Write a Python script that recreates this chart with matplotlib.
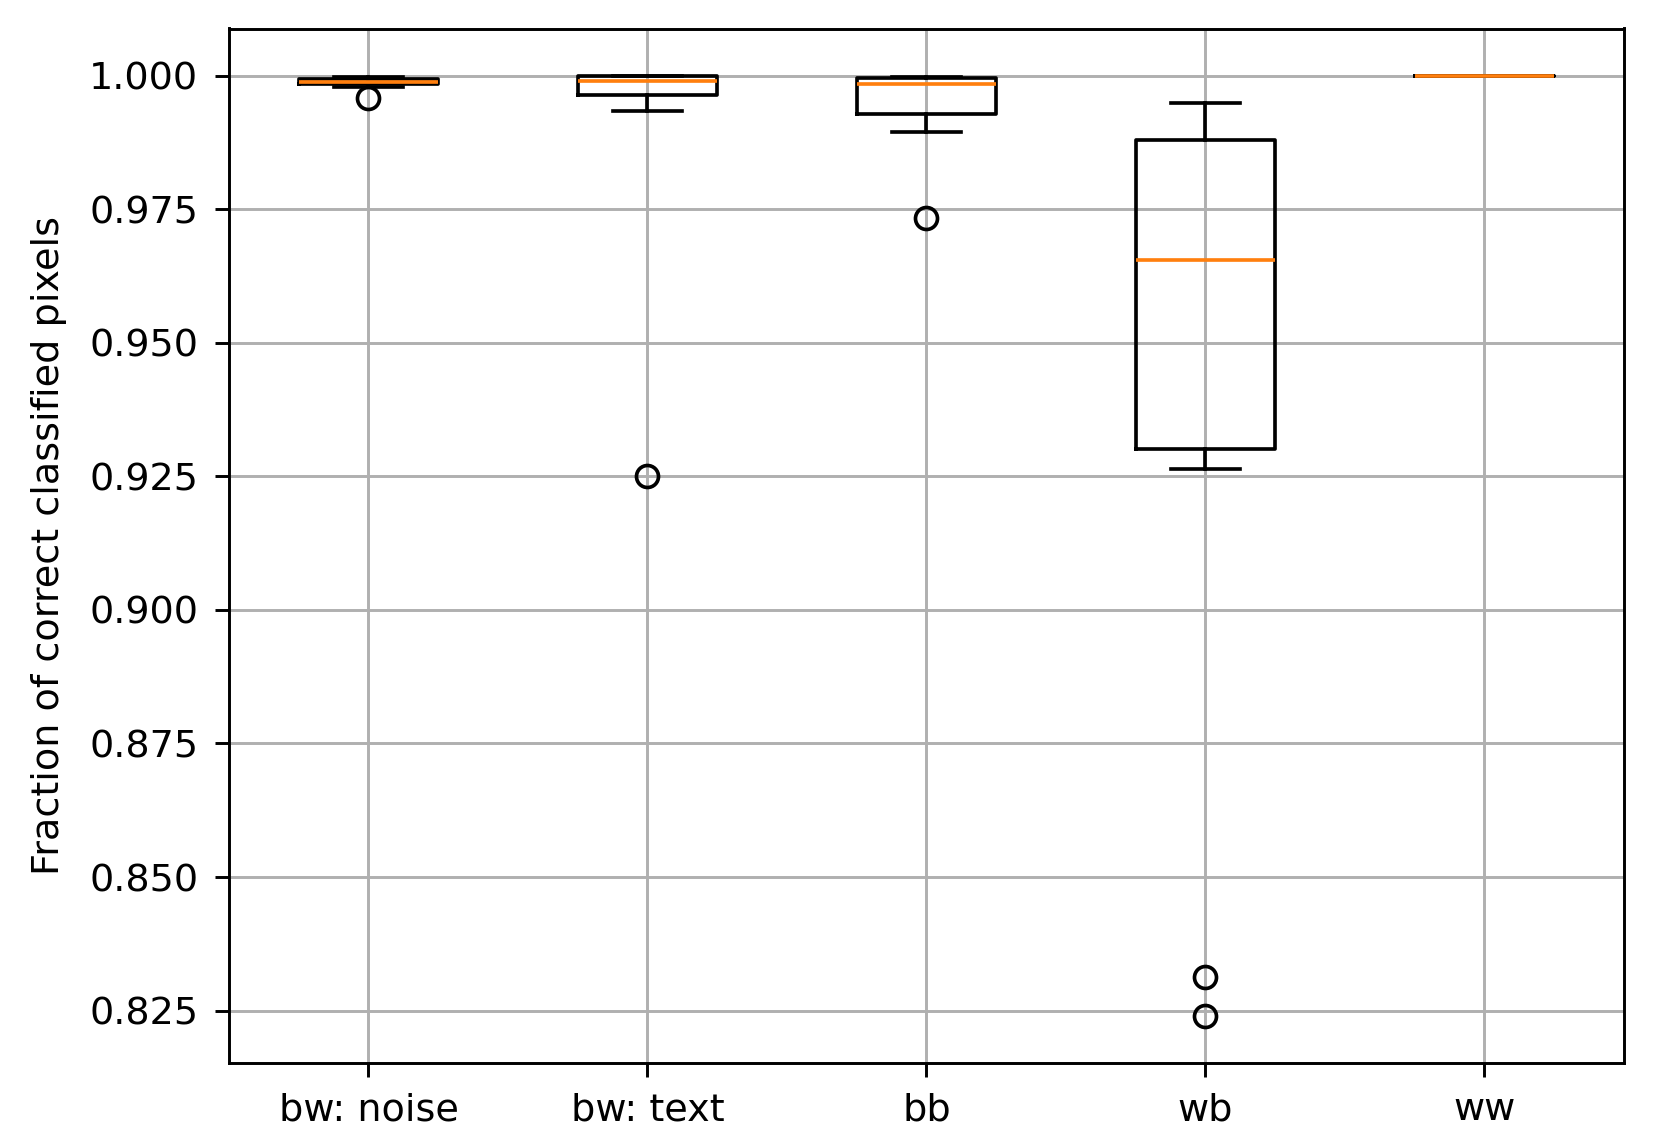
import matplotlib
matplotlib.use("Agg")
import matplotlib.pyplot as plt

categories = ["bw: noise", "bw: text", "bb", "wb", "ww"]
whisker_low = [0.9979, 0.9933, 0.9895, 0.9264, 0.99995]
q1 = [0.9984, 0.9963, 0.9928, 0.9301, 0.99995]
median = [0.9988, 0.9990, 0.9985, 0.9655, 0.99997]
q3 = [0.9993, 1.0000, 0.9996, 0.9880, 1.0000]
whisker_high = [0.9997, 1.0000, 0.9998, 0.9948, 1.0000]
fliers = [[0.9957], [0.9250], [0.9734], [0.8313, 0.8240], []]

stats = []
for i, name in enumerate(categories):
    stats.append(dict(label=name, whislo=whisker_low[i], q1=q1[i], med=median[i],
                      q3=q3[i], whishi=whisker_high[i], fliers=fliers[i]))

plt.rcParams["font.size"] = 10.4
plt.rcParams["xtick.major.size"] = 3.8
plt.rcParams["ytick.major.size"] = 3.8
plt.rcParams["xtick.major.pad"] = 4.2
plt.rcParams["ytick.major.pad"] = 4.6
dpi = 264
fig = plt.figure(figsize=(1654 / dpi, 1148 / dpi), dpi=dpi)
ax = fig.add_axes([229 / 1654, 1 - 1063 / 1148, (1624 - 229) / 1654, (1063 - 28.5) / 1148])
ax.bxp(stats, showfliers=True)
ax.grid(True)
ax.set_ylabel("Fraction of correct classified pixels", labelpad=6)
ax.yaxis.set_major_formatter(matplotlib.ticker.FormatStrFormatter("%.3f"))
fig.savefig("out.png", dpi=dpi)
